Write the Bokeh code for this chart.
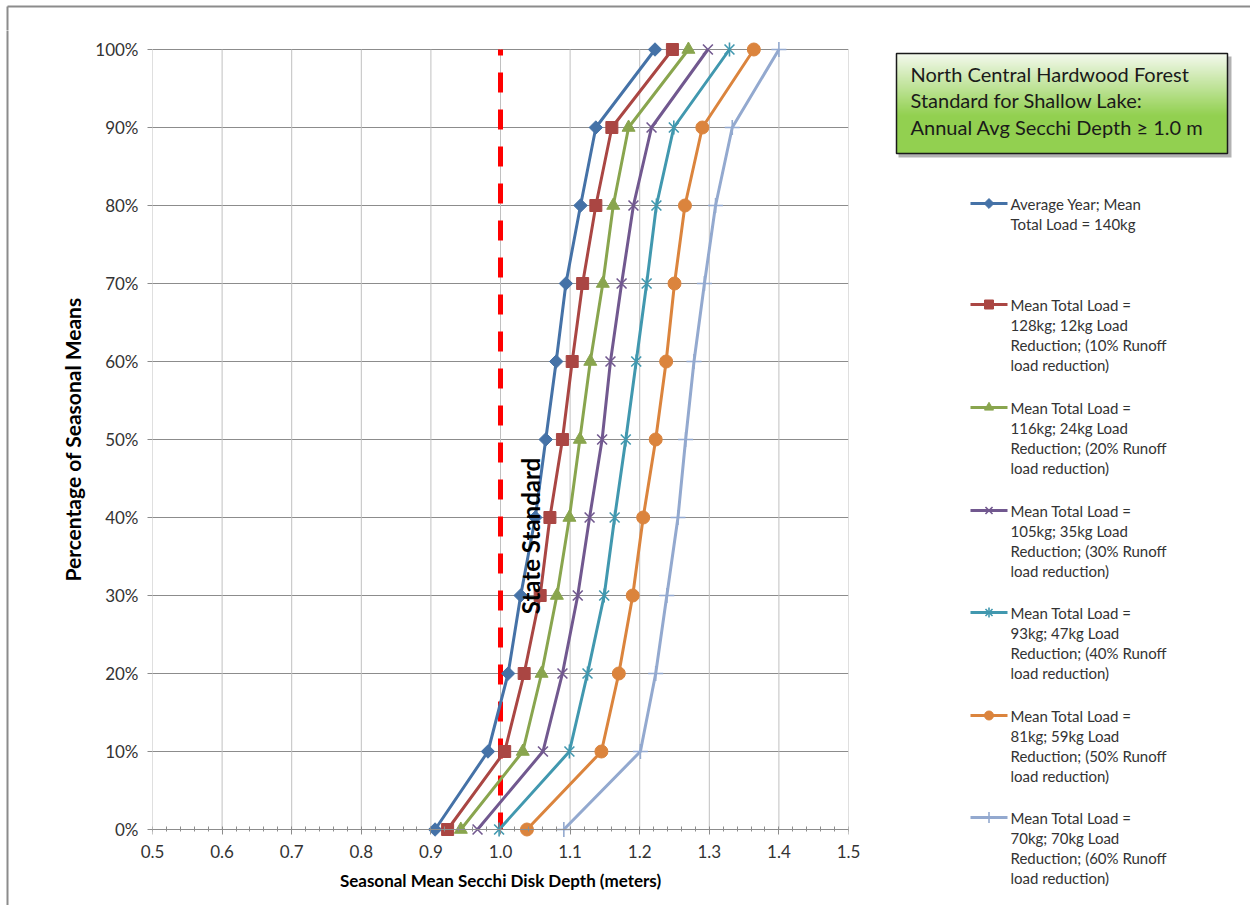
import math

from bokeh.core.properties import value
from bokeh.embed import file_html
from bokeh.layouts import column, row
from bokeh.models import FixedTicker, Label, LinearAxis, NumeralTickFormatter, Range1d
from bokeh.plotting import figure
from bokeh.resources import INLINE

# ---------------------------------------------------------------- data
percent_of_means = [0.0, 0.1, 0.2, 0.3, 0.4, 0.5, 0.6, 0.7, 0.8, 0.9, 1.0]

depth_average_year = [0.906, 0.982, 1.011, 1.029, 1.050, 1.065, 1.080, 1.094, 1.115, 1.137, 1.222]
depth_reduction_10 = [0.924, 1.006, 1.034, 1.057, 1.071, 1.089, 1.103, 1.118, 1.137, 1.160, 1.247]
depth_reduction_20 = [0.943, 1.032, 1.059, 1.081, 1.099, 1.114, 1.129, 1.147, 1.162, 1.184, 1.270]
depth_reduction_30 = [0.967, 1.061, 1.089, 1.111, 1.128, 1.146, 1.158, 1.174, 1.191, 1.217, 1.298]
depth_reduction_40 = [0.998, 1.099, 1.125, 1.149, 1.164, 1.180, 1.195, 1.210, 1.224, 1.249, 1.329]
depth_reduction_50 = [1.038, 1.145, 1.170, 1.190, 1.205, 1.223, 1.238, 1.250, 1.265, 1.290, 1.364]
depth_reduction_60 = [1.091, 1.201, 1.223, 1.239, 1.255, 1.266, 1.278, 1.293, 1.309, 1.333, 1.400]

series_names = [
    ["Average Year; Mean", "Total Load = 140kg"],
    ["Mean Total Load =", "128kg; 12kg Load", "Reduction; (10% Runoff", "load reduction)"],
    ["Mean Total Load =", "116kg; 24kg Load", "Reduction; (20% Runoff", "load reduction)"],
    ["Mean Total Load =", "105kg; 35kg Load", "Reduction; (30% Runoff", "load reduction)"],
    ["Mean Total Load =", "93kg; 47kg Load", "Reduction; (40% Runoff", "load reduction)"],
    ["Mean Total Load =", "81kg; 59kg Load", "Reduction; (50% Runoff", "load reduction)"],
    ["Mean Total Load =", "70kg; 70kg Load", "Reduction; (60% Runoff", "load reduction)"],
]

x_tick_values = [0.5, 0.6, 0.7, 0.8, 0.9, 1.0, 1.1, 1.2, 1.3, 1.4, 1.5]
y_tick_values = [0.0, 0.1, 0.2, 0.3, 0.4, 0.5, 0.6, 0.7, 0.8, 0.9, 1.0]

STATE_STANDARD = 1.0
standard_box_lines = [
    "North Central Hardwood Forest",
    "Standard for Shallow Lake:",
    "Annual Avg Secchi Depth \u2265 1.0 m",
]

# ---------------------------------------------------------------- style
W, H = 1250, 905
TOP_H = 30          # strip carrying the top border line
LEFT_W = 20         # strip carrying the left border line
MAIN_W = 850        # chart figure (axes + plot area)
RIGHT_W = W - LEFT_W - MAIN_W
BODY_H = H - TOP_H

PLOT_PX = 780       # pixel height of the 0..100% span
EDGE_PX = 8         # room kept above 100% and below 0% so end markers are not cut
Y_PAD = EDGE_PX / PLOT_PX

FONT = "Lato"
TEXT = "#333333"
BORDER = "#8c8c8c"

colors = ["#4572A7", "#AA4643", "#89A54E", "#71588F", "#4198AF", "#DB843D", "#93A9CF"]
markers = ["square", "square", "triangle", "x", "x", "circle", "cross"]
marker_angles = [math.pi / 4, 0, 0, 0, 0, 0, 0]
marker_sizes = [9.5, 12, 13, 14, 14, 13, 15]
legend_marker_sizes = [7, 9, 9, 10, 10, 9, 11]


def no_frame_align(f):
    try:
        f.frame_align = False
    except AttributeError:
        pass


def blank(width, height, x0, x1, y_bottom, y_top):
    f = figure(frame_width=width, frame_height=height, output_backend="svg",
               toolbar_location=None,
               x_range=Range1d(x0, x1), y_range=Range1d(y_bottom, y_top),
               x_axis_location=None, y_axis_location=None,
               min_border=0, min_border_left=0, min_border_right=0,
               min_border_top=0, min_border_bottom=0,
               background_fill_color="white", border_fill_color="white")
    f.grid.visible = False
    f.outline_line_color = None
    no_frame_align(f)
    return f


# ---------------------------------------------------------------- main chart
p = figure(
    width=MAIN_W, height=BODY_H, output_backend="svg", toolbar_location=None,
    x_range=Range1d(0.5, 1.5), y_range=Range1d(-Y_PAD, 1.0 + Y_PAD),
    min_border_left=132, min_border_right=22,
    min_border_top=19 - EDGE_PX, min_border_bottom=76 - EDGE_PX,
    background_fill_color="white", border_fill_color="white",
)
p.outline_line_color = None
no_frame_align(p)

x_ticker = FixedTicker(ticks=x_tick_values, minor_ticks=[0.5 + 0.02 * k for k in range(51)])

# bottom axis: tick labels and title (line and ticks come from the axis at 0%)
bottom_axis = p.below[0]
left_axis = p.left[0]

bottom_axis.ticker = x_ticker
bottom_axis.formatter = NumeralTickFormatter(format="0.0")
bottom_axis.axis_line_color = None
bottom_axis.major_tick_line_color = None
bottom_axis.minor_tick_line_color = None
bottom_axis.major_tick_in = 0
bottom_axis.major_tick_out = 0
bottom_axis.minor_tick_in = 0
bottom_axis.minor_tick_out = 0
bottom_axis.major_label_standoff = 7
bottom_axis.axis_label_standoff = 9
bottom_axis.axis_label = "Seasonal Mean Secchi Disk Depth (meters)"
bottom_axis.axis_label_text_font_size = "17px"

left_axis.ticker = FixedTicker(ticks=y_tick_values, minor_ticks=[])
left_axis.formatter = NumeralTickFormatter(format="0%")
left_axis.axis_label = "Percentage of Seasonal Means"
left_axis.axis_label_text_font_size = "21px"
left_axis.axis_line_color = None
left_axis.major_tick_line_color = BORDER
left_axis.major_tick_in = 0
left_axis.major_tick_out = 5
left_axis.major_label_standoff = 9
left_axis.axis_label_standoff = 7

for ax in (bottom_axis, left_axis):
    ax.major_label_text_font = FONT
    ax.major_label_text_font_size = "17px"
    ax.major_label_text_color = TEXT
    ax.axis_label_text_font = FONT
    ax.axis_label_text_font_style = "bold"
    ax.axis_label_text_color = "black"

# axis line with its ticks, pinned to 0%
zero_axis = LinearAxis(ticker=x_ticker, fixed_location=0.0,
                       axis_line_color=BORDER, major_tick_line_color=BORDER,
                       minor_tick_line_color=BORDER,
                       major_tick_in=5, major_tick_out=0,
                       minor_tick_in=2, minor_tick_out=3,
                       major_label_text_font_size="0px", major_label_text_color=None,
                       major_label_standoff=0)
p.add_layout(zero_axis, "above")

# gridlines: horizontal from the y axis, vertical ones kept within 0..100%
p.ygrid.grid_line_color = BORDER
p.xgrid.visible = False
p.segment(x0=x_tick_values, y0=[0.0] * len(x_tick_values),
          x1=x_tick_values, y1=[1.0] * len(x_tick_values),
          line_color="#c0c0c0", line_width=1)

# state standard reference line
p.segment(x0=[STATE_STANDARD], y0=[1.0], x1=[STATE_STANDARD], y1=[0.0],
          line_color="red", line_width=5, line_dash="20 17", line_dash_offset=14)
p.add_layout(Label(x=STATE_STANDARD, y=0.38, x_offset=30, text="State  Standard",
                   angle=math.pi / 2, text_align="center", text_baseline="middle",
                   text_font=FONT, text_font_style="bold", text_font_size="24px",
                   text_color="black"))

all_series = [depth_average_year, depth_reduction_10, depth_reduction_20,
              depth_reduction_30, depth_reduction_40, depth_reduction_50,
              depth_reduction_60]


def draw_markers(fig, xs, ys, i, size):
    c = colors[i]
    if markers[i] in ("x", "cross"):
        fig.scatter(xs, ys, marker=markers[i], size=size, line_color=c, line_width=1.6)
        if i == 4:  # star: x plus a vertical stroke
            fig.scatter(xs, ys, marker="dash", angle=math.pi / 2, size=size,
                        line_color=c, line_width=1.6)
    else:
        fig.scatter(xs, ys, marker=markers[i], angle=marker_angles[i], size=size,
                    fill_color=c, line_color=c)


for i, depths in enumerate(all_series):
    p.line(depths, percent_of_means, line_color=colors[i], line_width=3)
    draw_markers(p, depths, percent_of_means, i, marker_sizes[i])

# ---------------------------------------------------------------- right panel
r = blank(RIGHT_W, BODY_H, W - RIGHT_W, W, H, TOP_H)

# standard box: shadow, vertical gradient, frame, text
bx0, bx1, by0, by1 = 896, 1227, 53, 153
r.quad(left=[bx0 + 2], right=[bx1 + 4], top=[by0 + 3], bottom=[by1 + 4],
       fill_color="#555555", fill_alpha=0.45, line_color=None)
n_strips = 50
top_rgb, bottom_rgb = (244, 249, 238), (146, 208, 80)
strip_l, strip_r, strip_t, strip_b, strip_c = [], [], [], [], []
for k in range(n_strips):
    t = min(1.0, (k + 0.5) / n_strips / 0.62)
    rgb = tuple(int(round(a + (b - a) * t)) for a, b in zip(top_rgb, bottom_rgb))
    strip_l.append(bx0)
    strip_r.append(bx1)
    strip_t.append(by0 + (by1 - by0) * k / n_strips)
    strip_b.append(by0 + (by1 - by0) * (k + 1) / n_strips + 0.5)
    strip_c.append("#%02x%02x%02x" % rgb)
r.quad(left=strip_l, right=strip_r, top=strip_t, bottom=strip_b,
       fill_color=strip_c, line_color=None)
r.quad(left=[bx0], right=[bx1], top=[by0], bottom=[by1],
       fill_alpha=0, line_color="#1a1a1a", line_width=1.5)
r.text(x=[910] * 3, y=[73 + 26.5 * j for j in range(3)], text=standard_box_lines,
       text_font=value(FONT), text_font_size="20px", text_color="#1a1a1a",
       text_baseline="middle", text_align="left")

# legend entries
entry_tops = [203, 304, 407, 510, 612, 715, 817]
for i, yc in enumerate(entry_tops):
    r.line([970, 1007], [yc, yc], line_color=colors[i], line_width=3)
    draw_markers(r, [988.5], [yc], i, legend_marker_sizes[i])
    lines = series_names[i]
    r.text(x=[1010] * len(lines), y=[yc + 20 * j for j in range(len(lines))], text=lines,
           text_font=value(FONT), text_font_size="15px", text_color=TEXT,
           text_baseline="middle", text_align="left")

# ---------------------------------------------------------------- border strips
top = blank(W, TOP_H, 0, W, TOP_H, 0)
top.segment(x0=[7, 7], y0=[6, 6], x1=[W, 7], y1=[6, TOP_H + 1],
            line_color=BORDER, line_width=2)

left = blank(LEFT_W, BODY_H, 0, LEFT_W, H, TOP_H)
left.segment(x0=[7], y0=[TOP_H - 1], x1=[7], y1=[H], line_color=BORDER, line_width=2)

page = column(top, row(left, p, r, spacing=0), spacing=0)

open("out.html", "w").write(file_html(page, INLINE))
